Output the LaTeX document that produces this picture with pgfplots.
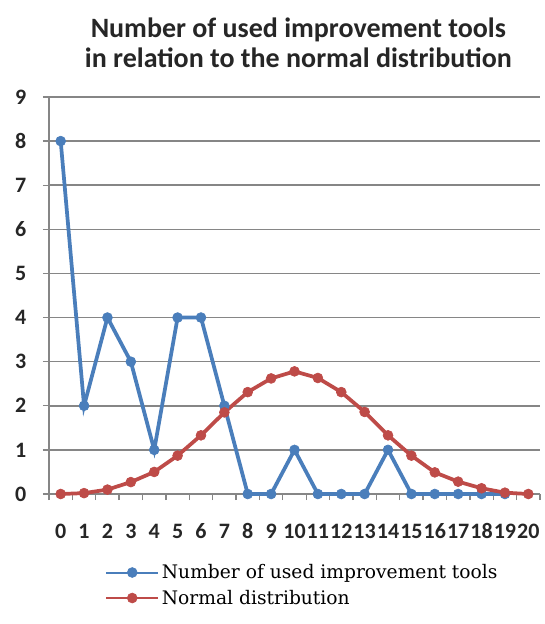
\documentclass[border=0pt]{standalone}
\usepackage{pgfplots}
\pgfplotsset{compat=1.18}
\usepackage{fontspec}
\setmainfont{Carlito}
\newfontfamily\legfont{DejaVu Serif}
\definecolor{exblue}{HTML}{4A7EBB}
\definecolor{exred}{HTML}{BE4B48}
\definecolor{gridgray}{HTML}{868686}

\pgfplotstableread{
x y
0 8
1 2
2 4
3 3
4 1
5 4
6 4
7 2
8 0
9 0
10 1
11 0
12 0
13 0
14 1
15 0
16 0
17 0
18 0
19 0
}\tools

\pgfplotstableread{
x y
0 0
1 0.02
2 0.1
3 0.27
4 0.5
5 0.87
6 1.33
7 1.85
8 2.31
9 2.62
10 2.78
11 2.63
12 2.31
13 1.86
14 1.33
15 0.87
16 0.49
17 0.28
18 0.13
19 0.03
20 0
}\normal

\begin{document}
\begin{tikzpicture}
\path[use as bounding box] (-36.75pt,-97.5pt) rectangle (372pt,370.5pt);
\begin{axis}[
  name=ax, at={(0,0)}, anchor=south west,
  scale only axis,
  width=368.25pt, height=297.75pt,
  xmin=-0.5, xmax=20.5,
  ymin=0, ymax=9,
  xtick={0,...,20},
  minor xtick={-0.5,0.5,...,20.5},
  ytick={0,...,9},
  axis x line*=bottom, axis y line*=left,
  axis line style={gridgray, line width=1.1pt, -},
  ymajorgrids, grid style={gridgray, line width=1.1pt},
  major x tick style={draw=none},
  minor x tick style={gridgray, line width=1pt},
  major y tick style={gridgray, line width=1pt},
  tick align=outside,
  major tick length=4.5pt, minor tick length=4.5pt,
  tick label style={font=\fontsize{16.5}{16.5}\selectfont\bfseries, text=black!85},
  /pgf/number format/assume math mode=true,
  xticklabel style={anchor=base, yshift=-29pt},
  yticklabel style={xshift=-9pt},
  legend style={at={(0.114,-0.17)}, anchor=north west, draw=none, fill=none,
    font=\legfont\fontsize{14}{14}\selectfont, row sep=3pt, inner sep=0pt},
  legend cell align=left,
  legend image code/.code={
    \draw[#1, line width=1.5pt, mark repeat=2, mark phase=2] plot coordinates {(0pt,0pt) (19.5pt,0pt) (39pt,0pt)};
  },
  clip=false,
]
\addplot[exblue, line width=2.8pt, mark=*, mark size=3.7pt,
  mark options={fill=exblue, draw=exblue, line width=0.5pt}] table {\tools};
\addplot[exred, line width=2.8pt, mark=*, mark size=3.7pt,
  mark options={fill=exred, draw=exred, line width=0.5pt}] table {\normal};
\legend{Number of used improvement tools, Normal distribution}
\end{axis}
\node[align=center, font=\fontsize{21}{23}\selectfont\bfseries, text=black!85]
  at (187pt,338.5pt) {Number of used improvement tools\\in relation to the normal distribution};
\end{tikzpicture}
\end{document}
